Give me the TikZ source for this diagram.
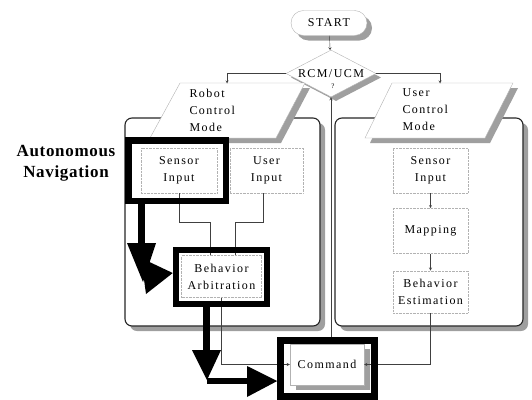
\documentclass[tikz,border=0pt]{standalone}
\usepackage{fontspec}
\setmainfont{Liberation Serif}
\newfontfamily\widefont[LetterSpace=12]{Liberation Serif}
\newfontfamily\navfont[LetterSpace=4]{Liberation Serif}
\usetikzlibrary{shapes.geometric,shadows,positioning}

\begin{document}
\begin{tikzpicture}[x=1pt,y=-1pt,>=stealth,
  txt/.style={font=\widefont\fontsize{12}{17}\selectfont,align=center},
  shadowed/.style={drop shadow={shadow xshift=5pt,shadow yshift=-5pt,fill=gray!75,opacity=1}},
  panel/.style={draw=black!85,line width=1.1pt,fill=white,rounded corners=7pt,shadowed},
  block/.style={txt,draw=black!30,densely dotted,fill=white,inner sep=0pt,minimum height=45pt},
  thickframe/.style={draw=black,line width=6.5pt,inner sep=0pt},
  modebox/.style={draw=black!30,fill=white,shadowed},
  modetext/.style={txt,align=left,anchor=west},
  wire/.style={draw=black!75,thin},
  flow/.style={wire,->},
  blackfill/.style={fill=black},
  heavybar/.style={draw=black,line width=7pt}]
  \useasboundingbox (0,0) rectangle (532,399);

  \node[panel,minimum width=195pt,minimum height=208pt] (lpanel) at (222.5,222) {};
  \node[panel,minimum width=188pt,minimum height=208pt] (rpanel) at (429,222) {};

  \node[txt,draw=black!30,fill=white,rounded corners=12.5pt,minimum width=76pt,minimum height=25pt,shadowed] (start) at (329,23) {START};
  \node[txt,diamond,draw=black!30,fill=white,minimum width=90pt,minimum height=47pt,inner sep=0pt,aspect=1.9,
        drop shadow={shadow xshift=5pt,shadow yshift=-4pt,fill=gray!75,opacity=1}] (choice) at (331,73.5) {RCM/UCM};
  \node[font=\fontsize{7}{8}\selectfont] (qmark) at (333,86) {?};

  % mode parallelograms
  \draw[modebox] (150,138) -- (180,83) -- (305,83) -- (276,138) -- cycle;
  \draw[modebox] (365,138) -- (392,83) -- (513,83) -- (485,138) -- cycle;
  \node[modetext] (rmode) at (186,110) {Robot\\Control\\Mode};
  \node[modetext] (umode) at (399,110) {User\\Control\\Mode};
  \coordinate (rtop) at (227,83.5);
  \coordinate (utop) at (440,83.5);

  \node[font=\navfont\bfseries\fontsize{17}{21}\selectfont,align=center] (auton) at (66,163) {Autonomous\\Navigation};

  % robot control side
  \node[block,minimum width=76pt] (lsens) at (179,170.5) {Sensor\\Input};
  \node[block,minimum width=73pt] (luser) at (266.5,170.5) {User\\Input};
  \node[block,minimum width=80pt,minimum height=42pt] (arbit) at (221.5,276.5) {Behavior\\Arbitration};

  % user control side
  \node[block,minimum width=75pt] (rsens) at (430.5,170.5) {Sensor\\Input};
  \node[block,minimum width=75pt,below=15pt of rsens] (rmap) {Mapping};
  \node[block,minimum width=75pt,minimum height=42pt,below=17pt of rmap] (rbeh) {Behavior\\Estimation};

  \node[block,solid,draw=black!30,minimum width=74pt,minimum height=41pt,
        drop shadow={shadow xshift=6pt,shadow yshift=-5pt,fill=gray!75,opacity=1}] (cmd) at (327,364.5) {Command};

  \draw[flow] (start) -- (choice);
  \draw[flow] (choice.west) -| (rtop);
  \draw[flow] (choice.east) -| (utop);
  \draw[wire] (lsens.south) -- ++(0,29) -| ([xshift=-11.5pt]arbit.north);
  \draw[wire] ([xshift=-3.5pt]luser.south) -- ++(0,29) -| ([xshift=13.5pt]arbit.north);
  \draw[flow] (rsens) -- (rmap);
  \draw[flow] (rmap) -- (rbeh);
  \draw[flow] (arbit.south) |- (cmd.west);
  \draw[flow] (rbeh.south) |- (cmd.east);

  \node[thickframe,minimum width=97.5pt,minimum height=60.5pt] (sensframe) at (177.25,170.75) {};
  \node[thickframe,minimum width=91pt,minimum height=54pt] (arbframe) at (221.5,277) {};
  \node[thickframe,minimum width=94pt,minimum height=56pt] (cmdframe) at (327.5,368.5) {};
  \draw[flow] (choice.south |- cmdframe.north) -- (choice.south);

  % autonomous path
  \coordinate (bend1) at (141.5,243);
  \draw[heavybar] (sensframe.south -| bend1) -- (bend1);
  \fill[blackfill] ([xshift=-14.5pt]bend1) -- ([xshift=14.5pt]bend1) -- ([shift={(1.5,39)}]bend1) -- cycle;
  \fill[blackfill] ([shift={(-0.5,15)}]bend1) -- ([yshift=4pt]arbframe.west) -- ([shift={(4.5,51)}]bend1) -- cycle;

  \coordinate (bend2) at (206.5,381);
  \draw[heavybar] (arbframe.south -| bend2) -- ([yshift=29pt]bend2);
  \fill[blackfill] ([shift={(-14.5,-31)}]bend2) -- ([shift={(14.5,-31)}]bend2) -- ([shift={(0.5,-1)}]bend2) -- cycle;
  \draw[heavybar,line width=6pt] (bend2) -- ([xshift=41pt]bend2);
  \fill[blackfill] ([shift={(40.5,-15)}]bend2) -- (cmdframe.west |- bend2) -- ([shift={(40.5,16)}]bend2) -- cycle;
\end{tikzpicture}
\end{document}
